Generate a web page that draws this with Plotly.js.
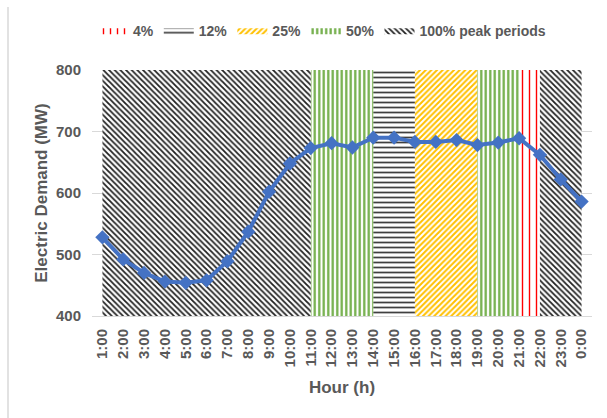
<!DOCTYPE html>
<html>
<head>
<meta charset="utf-8">
<script src="https://cdn.plot.ly/plotly-3.0.1.min.js"></script>
<style>html,body{margin:0;padding:0;background:#fff;}#chart{width:607px;height:418px;}</style>
</head>
<body>
<div id="chart"></div>
<script>
var hours = ['1:00','2:00','3:00','4:00','5:00','6:00','7:00','8:00','9:00','10:00','11:00','12:00',
             '13:00','14:00','15:00','16:00','17:00','18:00','19:00','20:00','21:00','22:00','23:00','0:00'];
var demand = [528, 492, 470, 456, 454, 458, 489, 537, 602, 648, 673, 681,
              674, 690, 690, 683, 683, 686, 678, 682, 689, 662, 622, 586];

// peak-period bands: [label, start hour, end hour]
var bandLabels = ['4%', '12%', '25%', '50%', '50%', '100% peak periods', '100% peak periods'];
var bandStart  = ['21:00', '14:00', '16:00', '11:00', '19:00', '1:00', '22:00'];
var bandEnd    = ['22:00', '16:00', '19:00', '14:00', '21:00', '11:00', '0:00'];
var bandTop = 800;

var yTicks = [400, 500, 600, 700, 800];

var FONT = '"Liberation Sans", Arial, sans-serif';

var patterns = {
  '4%': {shape: '|', fgcolor: '#FF0000', bgcolor: '#ffffff', size: 7, solidity: 0.2},
  '12%': {shape: '-', fgcolor: '#404040', bgcolor: '#ffffff', size: 5, solidity: 0.35},
  '25%': {shape: '/', fgcolor: '#FFC000', bgcolor: '#ffffff', size: 4, solidity: 0.5},
  '50%': {shape: '|', fgcolor: '#70AD47', bgcolor: '#ffffff', size: 4.5, solidity: 0.5},
  '100% peak periods': {shape: '\\', fgcolor: '#222222', bgcolor: '#ffffff', size: 4, solidity: 0.45}
};

var traces = [];
var seen = {};
for (var i = 0; i < bandLabels.length; i++) {
  var lab = bandLabels[i];
  traces.push({
    type: 'scatter', mode: 'lines',
    x: [bandStart[i], bandEnd[i]], y: [bandTop, bandTop],
    fill: 'tozeroy', fillcolor: 'rgba(255,255,255,0)',
    fillpattern: patterns[lab],
    line: {width: 0, color: 'rgba(0,0,0,0)'},
    name: lab, legendgroup: lab, showlegend: !seen[lab],
    hoverinfo: 'skip'
  });
  seen[lab] = true;
}
traces.push({
  type: 'scatter', mode: 'lines+markers',
  x: hours, y: demand,
  line: {color: '#4472C4', width: 4},
  marker: {symbol: 'diamond', size: 11, color: '#4472C4'},
  showlegend: false, name: 'Demand'
});

var layout = {
  width: 607, height: 418,
  margin: {l: 92, r: 15, t: 70, b: 102},
  paper_bgcolor: '#ffffff', plot_bgcolor: '#ffffff',
  font: {family: FONT, color: '#595959'},
  showlegend: true,
  legend: {orientation: 'h', x: 0.46, xanchor: 'center', y: 1.16, yanchor: 'middle',
           font: {family: FONT, size: 14, color: '#595959', weight: 'bold'}, traceorder: 'normal',
           itemwidth: 30, tracegroupgap: 0},
  xaxis: {type: 'category', categoryorder: 'array', categoryarray: hours, range: [-0.5, 23.5],
          tickangle: -90, showgrid: false, showline: true, linecolor: '#D9D9D9', linewidth: 1,
          ticks: '', ticklabelstandoff: 6,
          tickfont: {family: FONT, size: 15, color: '#595959', weight: 'bold'},
          title: {text: 'Hour (h)', font: {family: FONT, size: 17, color: '#595959', weight: 'bold'}, standoff: 14},
          automargin: false, zeroline: false},
  yaxis: {range: [400, 800], tickvals: yTicks, showgrid: true, gridcolor: '#D9D9D9', gridwidth: 1,
          zeroline: false, showline: false, ticks: '', ticklabelstandoff: 10,
          tickfont: {family: FONT, size: 15, color: '#595959', weight: 'bold'},
          title: {text: 'Electric Demand (MW)', font: {family: FONT, size: 17, color: '#595959', weight: 'bold'}, standoff: 4},
          automargin: false},
  shapes: [
    {type: 'line', xref: 'paper', yref: 'paper', x0: -0.168, x1: -0.168, y0: -0.42, y1: 1.256,
     line: {color: '#D9D9D9', width: 1.5}}
  ]
};

Plotly.newPlot('chart', traces, layout, {displayModeBar: false, staticPlot: true});
</script>
</body>
</html>
